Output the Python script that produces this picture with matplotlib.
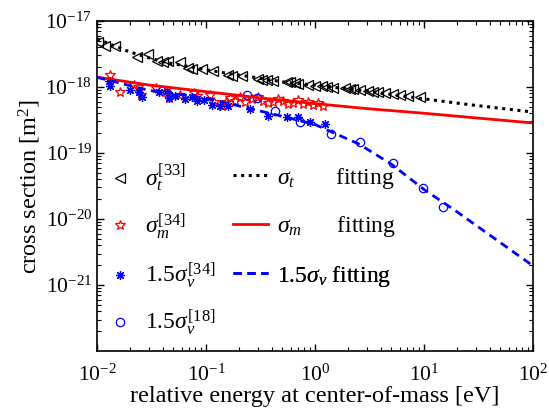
import matplotlib
matplotlib.use("Agg")
import matplotlib.pyplot as plt
from matplotlib.ticker import LogLocator, NullFormatter
import numpy as np

plt.rcParams['font.family'] = ['Liberation Serif', 'DejaVu Serif']
plt.rcParams['mathtext.fontset'] = 'custom'
plt.rcParams['mathtext.rm'] = 'Liberation Serif'
plt.rcParams['mathtext.it'] = 'Liberation Serif:italic'
plt.rcParams['mathtext.bf'] = 'Liberation Serif:bold'

# sigma_t data [33]
t_E = [0.0103, 0.0118, 0.0146, 0.0231, 0.0296, 0.0352, 0.0406, 0.0451, 0.0577, 0.0689,
       0.0738, 0.0912, 0.117, 0.160, 0.172, 0.212, 0.302, 0.324, 0.361, 0.415,
       0.55, 0.59, 0.656, 0.703, 0.869, 1.0, 1.15, 1.28, 1.47, 1.88,
       2.09, 2.25, 2.59, 3.08, 3.43, 3.81, 4.39, 5.23, 6.03, 7.18, 9.19]
t_sig = [4.86e-18, 4.23e-18, 4.23e-18, 2.82e-18, 3.16e-18, 2.51e-18, 2.37e-18, 2.51e-18, 2.37e-18, 1.92e-18,
         1.87e-18, 1.87e-18, 1.77e-18, 1.52e-18, 1.49e-18, 1.45e-18, 1.32e-18, 1.29e-18, 1.29e-18, 1.25e-18,
         1.18e-18, 1.18e-18, 1.15e-18, 1.11e-18, 1.07e-18, 1.05e-18, 1.02e-18, 9.89e-19, 9.55e-19, 9.55e-19,
         9.33e-19, 9.33e-19, 9.01e-19, 8.80e-19, 8.50e-19, 8.30e-19, 8.11e-19, 7.83e-19, 7.57e-19, 7.39e-19, 6.97e-19]

# sigma_m data [34]
m_E = [0.01324, 0.01637, 0.0220, 0.0236, 0.0254, 0.0350, 0.0424, 0.0455, 0.0581, 0.0771,
       0.0826, 0.109, 0.118, 0.139, 0.152, 0.166, 0.185, 0.205, 0.228, 0.262,
       0.300, 0.336, 0.371, 0.414, 0.458, 0.512, 0.565, 0.632, 0.698, 0.782,
       0.863, 0.964, 1.07, 1.19]
m_sig = [1.52e-18, 8.49e-19, 1.07e-18, 9.89e-19, 7.57e-19, 9.55e-19, 8.31e-19, 6.75e-19, 7.57e-19, 8.11e-19,
         7.38e-19, 7.57e-19, 5.86e-19, 5.21e-19, 5.93e-19, 6.81e-19, 6.14e-19, 7.13e-19, 5.93e-19, 6.58e-19,
         7.05e-19, 6.20e-19, 5.72e-19, 5.86e-19, 6.58e-19, 6.07e-19, 5.52e-19, 5.66e-19, 6.35e-19, 5.52e-19,
         5.86e-19, 5.39e-19, 5.72e-19, 5.21e-19]

# 1.5 sigma_v data [34]
v_E = [0.0128, 0.01324, 0.0202, 0.0242, 0.0259, 0.0368, 0.0438, 0.0455, 0.0522, 0.0646,
       0.0745, 0.0826, 0.0953, 0.114, 0.134, 0.160, 0.254, 0.373, 0.550, 0.703,
       0.900, 1.24]
v_sig = [1.25e-18, 1.05e-18, 9.10e-19, 8.31e-19, 6.98e-19, 8.31e-19, 8.79e-19, 6.75e-19, 7.38e-19, 6.58e-19,
         6.98e-19, 6.20e-19, 6.43e-19, 5.33e-19, 5.21e-19, 5.21e-19, 4.64e-19, 3.67e-19, 3.47e-19, 3.47e-19,
         2.92e-19, 2.75e-19]

# 1.5 sigma_v data [18]
c_E = [0.236, 0.296, 0.430, 0.728, 1.39, 2.59, 5.23, 9.86, 14.9]
c_sig = [7.57e-19, 6.81e-19, 4.38e-19, 2.92e-19, 1.97e-19, 1.49e-19, 7.05e-20, 2.92e-20, 1.54e-20]

# fitting curves
ft_E = [0.01, 0.02, 0.04, 0.14, 0.27, 0.55, 1.1, 3.7, 10, 26, 100]
ft_sig = [5.37e-18, 3.39e-18, 2.40e-18, 1.66e-18, 1.41e-18, 1.17e-18, 1.05e-18, 8.3e-19, 6.6e-19, 5.4e-19, 4.17e-19]
fm_E = [0.01, 0.03, 0.1, 0.3, 1, 3, 10, 30, 100]
fm_sig = [1.41e-18, 1.07e-18, 8.5e-19, 6.9e-19, 5.6e-19, 4.7e-19, 4.0e-19, 3.4e-19, 2.85e-19]
fv_E = [0.01, 0.03, 0.1, 0.3, 0.5, 1.0, 1.5, 2.5, 5, 10, 20, 50, 100]
fv_sig = [1.40e-18, 8.9e-19, 6.8e-19, 4.4e-19, 3.6e-19, 2.7e-19, 2.0e-19, 1.38e-19, 6.8e-20, 2.8e-20, 1.29e-20, 4.4e-21, 1.95e-21]

x_ticks = [1e-2, 1e-1, 1e0, 1e1, 1e2]
x_ticklabels = [r'$10^{-2}$', r'$10^{-1}$', r'$10^{0}$', r'$10^{1}$', r'$10^{2}$']
y_ticks = [1e-21, 1e-20, 1e-19, 1e-18, 1e-17]
y_ticklabels = [r'$10^{-21}$', r'$10^{-20}$', r'$10^{-19}$', r'$10^{-18}$', r'$10^{-17}$']

fig = plt.figure(figsize=(5.49, 4.18), dpi=100)
ax = fig.add_axes([0.1767, 0.1603, 0.7942, 0.7895])

h_t, = ax.plot(t_E, t_sig, ls='none', marker='<', ms=6.5, mfc='none', mec='black', mew=0.9)
h_m, = ax.plot(m_E, m_sig, ls='none', marker='*', ms=7.5, mfc='none', mec='red', mew=0.9)
h_v, = ax.plot(v_E, v_sig, ls='none', marker=(8, 2, 0), ms=6.5, mec='blue', mew=0.9)
h_c, = ax.plot(c_E, c_sig, ls='none', marker='o', ms=6, mfc='none', mec='blue', mew=0.9)

l_t, = ax.plot(ft_E, ft_sig, ls=(0, (1, 1.5)), color='black', lw=2.2)
l_m, = ax.plot(fm_E, fm_sig, ls='-', color='red', lw=2)
l_v, = ax.plot(fv_E, fv_sig, ls=(0, (3, 2)), color='blue', lw=2)

ax.set_xscale('log')
ax.set_yscale('log')
ax.set_xlim(1e-2, 1e2)
ax.set_ylim(1e-22, 1e-17)
ax.set_xticks(x_ticks)
ax.set_xticklabels(x_ticklabels)
ax.set_yticks(y_ticks)
ax.set_yticklabels(y_ticklabels)
ax.xaxis.set_minor_locator(LogLocator(base=10, subs=np.arange(2, 10), numticks=20))
ax.yaxis.set_minor_locator(LogLocator(base=10, subs=np.arange(2, 10), numticks=20))
ax.xaxis.set_minor_formatter(NullFormatter())
ax.yaxis.set_minor_formatter(NullFormatter())
ax.tick_params(which='both', direction='in', top=True, right=True, labelsize=15.5)
ax.tick_params(which='major', length=5, width=1)
ax.tick_params(which='minor', length=3, width=0.8)
ax.tick_params(axis='x', pad=10)
for s in ax.spines.values():
    s.set_linewidth(1.2)

ax.set_xlabel('relative energy at center-of-mass [eV]', fontsize=17.5, labelpad=0)
ax.set_ylabel(r'cross section [m$^2$]', fontsize=17.5, labelpad=2)

# legend entries, drawn one by one so that both columns share the same rows
handles = [h_t, h_m, h_v, h_c, l_t, l_m, l_v]
labels = [r'$\sigma_t^{[33]}$', r'$\sigma_m^{[34]}$', r'$1.5\sigma_v^{[34]}$', r'$1.5\sigma_v^{[18]}$',
          r'$\sigma_t$' + '       fitting',
          r'$\sigma_m$' + '      fitting',
          r'$1.5\sigma_v$' + ' fitting']
row_y = [0.524, 0.376, 0.227, 0.085]
col_x = [0.011, 0.312]
for i, (h, lab) in enumerate(zip(handles, labels)):
    col = 0 if i < 4 else 1
    row = i if i < 4 else i - 4
    lg = ax.legend([h], [lab], frameon=False, fontsize=17,
                   loc='center left', bbox_to_anchor=(col_x[col], row_y[row]),
                   handlelength=1.5, handletextpad=0.35,
                   borderaxespad=0.0, borderpad=0.0)
    ax.add_artist(lg)

fig.savefig('out.png', dpi=100)
